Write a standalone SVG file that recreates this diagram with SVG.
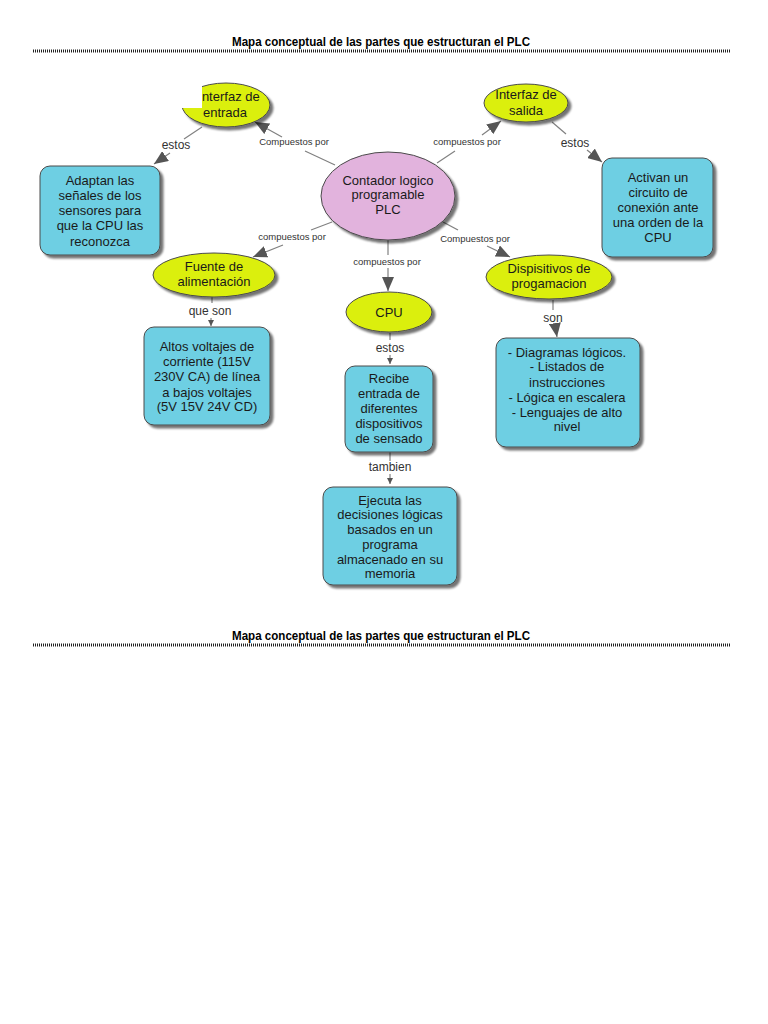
<svg xmlns="http://www.w3.org/2000/svg" width="768" height="1024" viewBox="0 0 768 1024">
<style>
text{font-family:"Liberation Sans",Arial,sans-serif;fill:#1a1a1a;text-anchor:middle}
.title{font-size:13px;font-weight:bold;fill:#000}
.dots{stroke:#222;stroke-width:3;stroke-dasharray:1 1;fill:none}
.concept{fill:#dbef0c;stroke:#4a4a4a;stroke-width:1}
.main{fill:#e2b3dd;stroke:#4a4a4a;stroke-width:1}
.box{fill:#6ecfe3;stroke:#4a4a4a;stroke-width:1}
.nt{font-size:13px}
.lbl{font-size:9.5px;fill:#333}
.lbl2{font-size:12px;fill:#333}
.ln{stroke:#808080;stroke-width:1.2;fill:none}
</style>
<defs>
<filter id="sh" x="-20%" y="-20%" width="150%" height="150%">
<feGaussianBlur in="SourceAlpha" stdDeviation="1.2" result="b"/>
<feOffset in="b" dx="3" dy="3" result="o"/>
<feComponentTransfer in="o" result="s"><feFuncA type="linear" slope="0.55"/></feComponentTransfer>
<feMerge><feMergeNode in="s"/><feMergeNode in="SourceGraphic"/></feMerge>
</filter>
<marker id="big" markerUnits="userSpaceOnUse" markerWidth="16" markerHeight="12" refX="14" refY="6" orient="auto"><path d="M0,0 L14,6 L0,12 Z" fill="#555"/></marker>
<marker id="small" markerUnits="userSpaceOnUse" markerWidth="8" markerHeight="8" refX="6" refY="3" orient="auto"><path d="M0,0 L6,3 L0,6 Z" fill="#555"/></marker>
<clipPath id="cut"><rect x="202" y="0" width="566" height="1024"/><rect x="0" y="108" width="768" height="916"/></clipPath>
</defs>
<rect width="768" height="1024" fill="#fff"/>

<g id="header-top">
<text class="title" x="381" y="46" textLength="298" lengthAdjust="spacingAndGlyphs">Mapa conceptual de las partes que estructuran el PLC</text>
<line class="dots" x1="33" y1="51" x2="730" y2="51"/>
</g>
<g id="header-bottom">
<text class="title" x="381" y="640" textLength="298" lengthAdjust="spacingAndGlyphs">Mapa conceptual de las partes que estructuran el PLC</text>
<line class="dots" x1="33" y1="645" x2="730" y2="645"/>
</g>

<g id="connectors">
<line class="ln" x1="335" y1="165" x2="305" y2="151"/>
<line class="ln" x1="282" y1="137" x2="255" y2="122" marker-end="url(#big)"/>
<text class="lbl" x="294" y="145">Compuestos por</text>

<line class="ln" x1="202" y1="127" x2="184" y2="139"/>
<line class="ln" x1="170" y1="153" x2="154" y2="164" marker-end="url(#big)"/>
<text class="lbl2" x="176" y="149">estos</text>

<line class="ln" x1="332" y1="222" x2="311" y2="230"/>
<line class="ln" x1="283" y1="245" x2="253" y2="257" marker-end="url(#big)"/>
<text class="lbl" x="292" y="240">compuestos por</text>

<line class="ln" x1="388" y1="240" x2="388" y2="255"/>
<line class="ln" x1="388" y1="268" x2="388" y2="291" marker-end="url(#big)"/>
<text class="lbl" x="387" y="265">compuestos por</text>

<line class="ln" x1="437" y1="163" x2="455" y2="151"/>
<line class="ln" x1="482" y1="135" x2="501" y2="121" marker-end="url(#big)"/>
<text class="lbl" x="467" y="145">compuestos por</text>

<line class="ln" x1="552" y1="122" x2="566" y2="134"/>
<line class="ln" x1="587" y1="150" x2="602" y2="162" marker-end="url(#big)"/>
<text class="lbl2" x="575" y="147">estos</text>

<line class="ln" x1="443" y1="222" x2="458" y2="230"/>
<line class="ln" x1="487" y1="246" x2="510" y2="257" marker-end="url(#big)"/>
<text class="lbl" x="475" y="242">Compuestos por</text>

<line class="ln" x1="212" y1="297" x2="212" y2="303"/>
<line class="ln" x1="211" y1="318" x2="211" y2="326" marker-end="url(#small)"/>
<text class="lbl2" x="210" y="315">que son</text>

<line class="ln" x1="390" y1="333" x2="390" y2="340"/>
<line class="ln" x1="390" y1="355" x2="390" y2="364" marker-end="url(#small)"/>
<text class="lbl2" x="390" y="352">estos</text>

<line class="ln" x1="390" y1="452" x2="390" y2="461"/>
<line class="ln" x1="390" y1="474" x2="390" y2="484" marker-end="url(#small)"/>
<text class="lbl2" x="390" y="471">tambien</text>

<line class="ln" x1="553" y1="300" x2="553" y2="310"/>
<line class="ln" x1="555" y1="324" x2="557" y2="337" marker-end="url(#big)"/>
<text class="lbl2" x="553" y="322">son</text>
</g>

<g id="node-plc">
<ellipse class="main" cx="388" cy="196" rx="67" ry="44" filter="url(#sh)"/>
<text class="nt" x="388" y="184.5">Contador logico</text>
<text class="nt" x="388" y="198.5">programable</text>
<text class="nt" x="388" y="213.5">PLC</text>
</g>

<g id="node-entrada" clip-path="url(#cut)">
<ellipse class="concept" cx="226" cy="105" rx="44" ry="22" filter="url(#sh)"/>
<text class="nt" x="229" y="101">Interfaz de</text>
<text class="nt" x="225" y="117">entrada</text>
</g>

<g id="node-salida">
<ellipse class="concept" cx="526" cy="103" rx="42" ry="19" filter="url(#sh)"/>
<text class="nt" x="526" y="99">Interfaz de</text>
<text class="nt" x="526" y="115">salida</text>
</g>

<g id="node-adaptan">
<rect class="box" x="40" y="166" width="120" height="89" rx="10" filter="url(#sh)"/>
<text class="nt" x="100" y="184.5">Adaptan las</text>
<text class="nt" x="100" y="200">señales de los</text>
<text class="nt" x="100" y="215">sensores para</text>
<text class="nt" x="100" y="230">que la CPU las</text>
<text class="nt" x="100" y="245.5">reconozca</text>
</g>

<g id="node-activan">
<rect class="box" x="602" y="158" width="111" height="99" rx="10" filter="url(#sh)"/>
<text class="nt" x="658" y="181.5">Activan un</text>
<text class="nt" x="658" y="196.5">circuito de</text>
<text class="nt" x="658" y="211.5">conexión ante</text>
<text class="nt" x="658" y="226.5">una orden de la</text>
<text class="nt" x="658" y="241.5">CPU</text>
</g>

<g id="node-fuente">
<ellipse class="concept" cx="214" cy="275" rx="61" ry="22" filter="url(#sh)"/>
<text class="nt" x="214" y="271">Fuente de</text>
<text class="nt" x="214" y="285.5">alimentación</text>
</g>

<g id="node-altos">
<rect class="box" x="144" y="327" width="126" height="98" rx="10" filter="url(#sh)"/>
<text class="nt" x="207" y="351">Altos voltajes de</text>
<text class="nt" x="207" y="366">corriente (115V</text>
<text class="nt" x="207" y="381">230V CA) de línea</text>
<text class="nt" x="207" y="396.5">a bajos voltajes</text>
<text class="nt" x="207" y="411">(5V 15V 24V CD)</text>
</g>

<g id="node-cpu">
<ellipse class="concept" cx="389" cy="312" rx="43" ry="20" filter="url(#sh)"/>
<text class="nt" x="389" y="317">CPU</text>
</g>

<g id="node-recibe">
<rect class="box" x="345" y="366" width="88" height="86" rx="10" filter="url(#sh)"/>
<text class="nt" x="389" y="382.5">Recibe</text>
<text class="nt" x="389" y="397.5">entrada de</text>
<text class="nt" x="389" y="412.5">diferentes</text>
<text class="nt" x="389" y="427.5">dispositivos</text>
<text class="nt" x="389" y="442.5">de sensado</text>
</g>

<g id="node-ejecuta">
<rect class="box" x="323" y="487" width="134" height="98" rx="10" filter="url(#sh)"/>
<text class="nt" x="390" y="504.5">Ejecuta las</text>
<text class="nt" x="390" y="518.5">decisiones lógicas</text>
<text class="nt" x="390" y="533.5">basados en un</text>
<text class="nt" x="390" y="548.5">programa</text>
<text class="nt" x="390" y="563.5">almacenado en su</text>
<text class="nt" x="390" y="577.5">memoria</text>
</g>

<g id="node-dispositivos">
<ellipse class="concept" cx="549" cy="277" rx="63" ry="22" filter="url(#sh)"/>
<text class="nt" x="549" y="272.5">Dispisitivos de</text>
<text class="nt" x="549" y="287.5">progamacion</text>
</g>

<g id="node-diagramas">
<rect class="box" x="496" y="338" width="144" height="109" rx="10" filter="url(#sh)"/>
<text class="nt" x="567" y="356.5">- Diagramas lógicos.</text>
<text class="nt" x="567" y="371">-  Listados de</text>
<text class="nt" x="567" y="386.5">instrucciones</text>
<text class="nt" x="567" y="401.5">-  Lógica en escalera</text>
<text class="nt" x="567" y="417">- Lenguajes de alto</text>
<text class="nt" x="567" y="431">nivel</text>
</g>
</svg>
